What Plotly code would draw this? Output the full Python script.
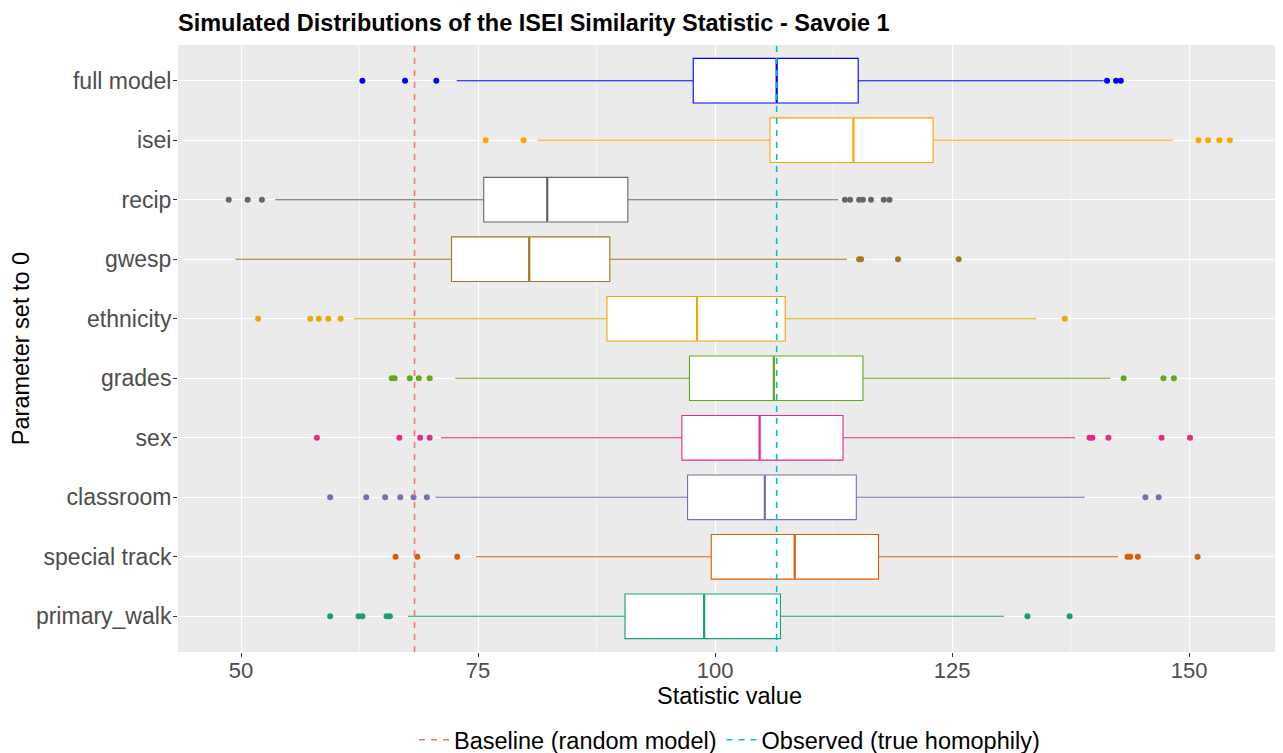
import plotly.graph_objects as go

# Parameter set to 0, from top to bottom
PARAMETERS = [
    "full model", "isei", "recip", "gwesp", "ethnicity",
    "grades", "sex", "classroom", "special track", "primary_walk",
]
COLORS = [
    "#0000FF", "#FFA500", "#666666", "#A6761D", "#E6AB02",
    "#66A61E", "#E7298A", "#7570B3", "#D95F02", "#1B9E77",
]

# Box statistics
WHISKER_LOW = [72.75, 81.3, 53.6, 49.4, 61.9, 72.6, 71.1, 70.5, 74.8, 67.6]
Q1 = [97.7, 105.8, 75.6, 72.2, 88.6, 97.3, 96.5, 97.1, 99.6, 90.5]
MEDIAN = [106.5, 114.6, 82.3, 80.4, 98.1, 106.2, 104.7, 105.25, 108.4, 98.85]
Q3 = [115.1, 123.0, 90.8, 88.9, 107.4, 115.6, 113.5, 114.9, 117.25, 106.9]
WHISKER_HIGH = [141.0, 148.3, 113.0, 113.9, 133.9, 141.7, 138.0, 139.0, 142.5, 130.5]

OUTLIERS = [
    [62.8, 67.3, 70.6, 141.35, 142.3, 142.8],
    [75.8, 79.8, 151.0, 152.0, 153.2, 154.3],
    [48.7, 50.7, 52.2, 113.7, 114.25, 115.2, 115.6, 116.45, 117.8, 118.4],
    [115.2, 115.4, 119.3, 125.7],
    [51.8, 57.3, 58.2, 59.2, 60.5, 136.9],
    [65.9, 66.2, 67.8, 68.75, 69.9, 143.1, 147.3, 148.4],
    [58.0, 66.7, 68.9, 69.9, 139.5, 139.8, 141.5, 147.1, 150.1],
    [59.4, 63.2, 65.2, 66.8, 68.2, 69.6, 145.4, 146.8],
    [66.3, 68.6, 72.8, 143.5, 143.8, 144.6, 150.9],
    [59.4, 62.4, 62.8, 65.35, 65.7, 132.95, 137.4],
]

BASELINE = 68.3
OBSERVED = 106.5

X_TICKS = [50, 75, 100, 125, 150]
X_MINOR = [62.5, 87.5, 112.5, 137.5]

FONT = "Liberation Sans, Arial, sans-serif"
W, H = 1283, 753
OFFSET = 8  # the page body adds 8px around the figure
M_L, M_R, M_T, M_B = 178 - OFFSET, 2 + OFFSET, 45 - OFFSET, 101 + OFFSET
PLOT_H = H - M_T - M_B
DASH = "6px,6px"

fig = go.Figure()

for i, name in enumerate(PARAMETERS):
    color = COLORS[i]
    fig.add_trace(
        go.Box(
            y=[name],
            q1=[Q1[i]],
            median=[MEDIAN[i]],
            q3=[Q3[i]],
            lowerfence=[WHISKER_LOW[i]],
            upperfence=[WHISKER_HIGH[i]],
            orientation="h",
            width=0.75,
            whiskerwidth=0,
            fillcolor="white",
            line=dict(color=color, width=1.1),
            showlegend=False,
            hoverinfo="skip",
        )
    )
    # ggplot draws a thicker median line
    fig.add_trace(
        go.Scatter(
            x=[MEDIAN[i]],
            y=[name],
            mode="markers",
            marker=dict(symbol="line-ns", size=31, line=dict(color=color, width=2.2)),
            showlegend=False,
            hoverinfo="skip",
        )
    )
    fig.add_trace(
        go.Scatter(
            x=OUTLIERS[i],
            y=[name] * len(OUTLIERS[i]),
            mode="markers",
            marker=dict(size=6, color=color),
            showlegend=False,
        )
    )

# reference lines
fig.add_vline(x=BASELINE, line=dict(color="#F8766D", width=1.6, dash=DASH))
fig.add_vline(x=OBSERVED, line=dict(color="#00BFC4", width=1.6, dash=DASH))

# legend entries for the reference lines
fig.add_trace(
    go.Scatter(
        x=[None], y=[None], mode="lines", name="Baseline (random model)",
        line=dict(color="#F8766D", width=1.6, dash=DASH),
    )
)
fig.add_trace(
    go.Scatter(
        x=[None], y=[None], mode="lines", name="Observed (true homophily)",
        line=dict(color="#00BFC4", width=1.6, dash=DASH),
    )
)

# minor vertical grid
for v in X_MINOR:
    fig.add_vline(x=v, layer="below", line=dict(color="white", width=0.6))

fig.update_layout(
    width=W,
    height=H,
    margin=dict(l=M_L, r=M_R, t=M_T, b=M_B, autoexpand=False),
    plot_bgcolor="#EBEBEB",
    paper_bgcolor="white",
    font=dict(family=FONT, color="black"),
    title=dict(
        text="<b>Simulated Distributions of the ISEI Similarity Statistic - Savoie 1</b>",
        x=M_L / W,
        xanchor="left",
        y=1 - (23 - OFFSET) / H,
        yanchor="middle",
        font=dict(size=23.5, color="black"),
    ),
    showlegend=True,
    legend=dict(
        orientation="h",
        x=0.5,
        xanchor="center",
        y=-(740 - 652) / PLOT_H,
        yanchor="middle",
        font=dict(size=23.5, color="black"),
        itemwidth=30,
        tracegroupgap=0,
    ),
    boxmode="overlay",
)

fig.update_xaxes(
    range=[43.35, 159.7],
    tickvals=X_TICKS,
    ticktext=[str(t) for t in X_TICKS],
    showgrid=True,
    gridcolor="white",
    gridwidth=1.2,
    zeroline=False,
    ticks="outside",
    ticklen=4,
    tickcolor="#333333",
    ticklabelstandoff=-5,
    tickfont=dict(size=22, color="#4D4D4D"),
    automargin=False,
    title=dict(text="Statistic value", font=dict(size=23.5, color="black"), standoff=4),
)

fig.update_yaxes(
    type="category",
    categoryorder="array",
    categoryarray=PARAMETERS[::-1],
    range=[-0.6, len(PARAMETERS) - 0.4],
    showgrid=True,
    gridcolor="white",
    gridwidth=1.2,
    zeroline=False,
    ticks="outside",
    ticklen=4,
    tickcolor="#333333",
    ticklabelstandoff=-3,
    tickfont=dict(size=23, color="#4D4D4D"),
    automargin=False,
    title=dict(text="Parameter set to 0", font=dict(size=23.5, color="black"), standoff=0),
)

fig.write_html("out.html")
